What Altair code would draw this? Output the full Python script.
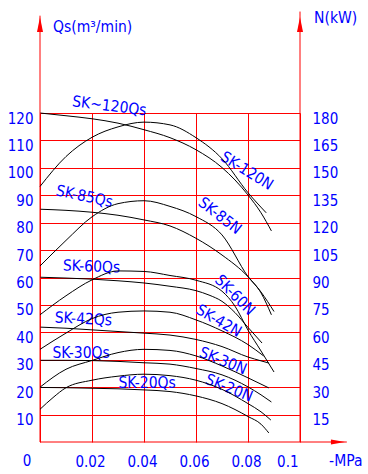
import altair as alt
import pandas as pd

# ---------------- data (x = vacuum, -MPa ; Qs = m3/min ; N = kW) ----------------
q120_x = [0, 0.01, 0.02, 0.03, 0.04, 0.05, 0.06, 0.07, 0.08, 0.085, 0.089]
q120_y = [120, 119, 117.9, 116.3, 113.9, 111, 106.6, 100.1, 90.1, 83.6, 77.0]
n120_x = [0, 0.01, 0.02, 0.03, 0.04, 0.05, 0.06, 0.07, 0.08, 0.087]
n120_y = [139.8, 156.2, 166.7, 172.4, 175.0, 173.5, 166.5, 155.0, 136.4, 125.4]

q85_x = [0, 0.01, 0.02, 0.03, 0.04, 0.05, 0.06, 0.07, 0.08, 0.085, 0.09]
q85_y = [84.9, 84.5, 83.8, 82.7, 81.0, 78.8, 74.3, 68.2, 60.3, 54.7, 47.6]
n85_x = [0, 0.01, 0.02, 0.03, 0.04, 0.05, 0.06, 0.07, 0.08, 0.085, 0.089]
n85_y = [96.3, 110.3, 123.2, 130.4, 132.0, 128.9, 123.3, 113.3, 90.5, 81.6, 69.6]

q60_x = [0, 0.01, 0.02, 0.03, 0.04, 0.05, 0.06, 0.065, 0.07, 0.075, 0.08, 0.0854]
q60_y = [60.1, 59.8, 59.4, 58.8, 58.0, 56.8, 55.2, 53.6, 51.3, 47.2, 41.8, 36.1]
n60_x = [0, 0.01, 0.02, 0.03, 0.04, 0.05, 0.06, 0.07, 0.075, 0.08, 0.085, 0.09]
n60_y = [69.6, 80.0, 88.7, 93.6, 93.3, 91.1, 88.5, 82.5, 74.3, 61.2, 49.8, 38.3]

q42_x = [0, 0.01, 0.02, 0.03, 0.04, 0.05, 0.06, 0.07, 0.08, 0.085, 0.088]
q42_y = [41.9, 41.5, 40.9, 40.3, 39.7, 39.0, 37.4, 34.8, 31.0, 29.6, 28.8]
n42_x = [0, 0.01, 0.02, 0.03, 0.04, 0.05, 0.06, 0.07, 0.08, 0.086]
n42_y = [50.7, 59.6, 67.5, 71.0, 71.7, 71.0, 66.8, 60.8, 53.3, 47.1]

q30_x = [0, 0.01, 0.02, 0.03, 0.04, 0.05, 0.06, 0.07, 0.08, 0.085, 0.089]
q30_y = [29.8, 29.8, 29.7, 29.4, 28.9, 28.4, 26.8, 24.5, 20.1, 17.2, 14.6]
n30_x = [0, 0.01, 0.02, 0.03, 0.04, 0.05, 0.06, 0.07, 0.08, 0.088]
n30_y = [30.0, 39.8, 44.6, 48.9, 50.7, 50.1, 47.1, 41.6, 35.1, 29.6]

q20_x = [0, 0.01, 0.02, 0.03, 0.04, 0.05, 0.06, 0.07, 0.08, 0.085, 0.088]
q20_y = [19.9, 19.8, 19.6, 19.4, 19.0, 18.4, 16.8, 14.0, 9.3, 6.5, 3.3]
n20_x = [0, 0.005, 0.01, 0.02, 0.03, 0.04, 0.05, 0.06, 0.07, 0.08, 0.085, 0.0888]
n20_y = [17.9, 24.3, 29.7, 33.8, 36.0, 37.1, 36.3, 33.8, 28.8, 21.0, 16.5, 12.0]

x_ticks = [0, 0.02, 0.04, 0.06, 0.08, 0.1]
y_left_ticks = [10, 20, 30, 40, 50, 60, 70, 80, 90, 100, 110, 120]
y_right_ticks = [15, 30, 45, 60, 75, 90, 105, 120, 135, 150, 165, 180]

lab_text = ["SK~120Qs", "SK-120N", "SK-85Qs", "SK-85N", "SK-60Qs", "SK-60N",
            "SK-42Qs", "SK-42N", "SK-30Qs", "SK-30N", "SK-20Qs", "SK-20N"]
lab_x = [0.0267, 0.0796, 0.0171, 0.0692, 0.0198, 0.0750, 0.0167, 0.0688, 0.0158, 0.0704, 0.0412, 0.0727]
lab_y = [122.6, 98.9, 89.6, 82.5, 64.0, 53.6, 44.9, 44.2, 32.3, 29.6, 21.4, 19.7]
lab_angle = [7, 32, 12, 38, 2, 45, 3, 30, 0, 22, 0, 22]

title_text = ["Qs(m³/min)", "N(kW)", "-MPa"]
title_x = [0.005, 0.1054, 0.1112]
title_y = [149.6, 152.9, -8.76]

# ---------------- tables ----------------
def long(curves, col):
    rows = []
    for name, xs_, ys_ in curves:
        for a, b in zip(xs_, ys_):
            rows.append({"curve": name, "p": a, col: b})
    return pd.DataFrame(rows)

qs_df = long([("120", q120_x, q120_y), ("85", q85_x, q85_y), ("60", q60_x, q60_y),
              ("42", q42_x, q42_y), ("30", q30_x, q30_y), ("20", q20_x, q20_y)], "Qs")
n_df = long([("120", n120_x, n120_y), ("85", n85_x, n85_y), ("60", n60_x, n60_y),
             ("42", n42_x, n42_y), ("30", n30_x, n30_y), ("20", n20_x, n20_y)], "N")
lab_df = pd.DataFrame({"t": lab_text, "p": lab_x, "Qs": lab_y, "a": lab_angle})
title_df = pd.DataFrame({"t": title_text, "p": title_x, "Qs": title_y})
origin_df = pd.DataFrame({"t": ["0"], "p": [-0.005], "Qs": [-8.76]})
axis_df = pd.DataFrame({"p": [0, 0.1, 0], "p2": [0, 0.1, 0.118],
                        "Qs": [0, 0, 0], "Qs2": [155.5, 157.0, 0]})
up_df = pd.DataFrame({"p": [0, 0.1], "Qs": [152.3, 152.3]})
right_df = pd.DataFrame({"p": [0.1146], "Qs": [0]})

RED = "#ff0000"
BLUE = "#0000ff"
FONT = "DejaVu Sans Condensed, Liberation Sans, sans-serif"

xs = alt.Scale(domain=[0, 0.1], nice=False, zero=False)
qs = alt.Scale(domain=[0, 120], nice=False, zero=False)
ns = alt.Scale(domain=[0, 180], nice=False, zero=False)

AX_X = alt.Axis(
    values=x_ticks, grid=True, gridColor=RED, gridWidth=1, gridOpacity=1,
    domain=False, ticks=False, tickSize=0, labelColor=BLUE, labelFont=FONT,
    labelFontSize=15, labelPadding=24, labelBaseline="alphabetic", labelOffset=-2,
    format="~g", labelExpr="datum.value == 0 ? '' : datum.label", title=None)
AX_Y = alt.Axis(
    values=y_left_ticks, grid=True, gridColor=RED, gridWidth=1, gridOpacity=1,
    domain=False, ticks=False, tickSize=0, labelColor=BLUE, labelFont=FONT,
    labelFontSize=15, labelPadding=7, labelBaseline="alphabetic", labelOffset=10,
    title=None)
AX_N = alt.Axis(
    orient="right", values=y_right_ticks, grid=False, domain=False, ticks=False,
    tickSize=0, labelColor=BLUE, labelFont=FONT, labelFontSize=15, labelPadding=12,
    labelBaseline="alphabetic", labelOffset=10, labelAlign="left", title=None)

X = alt.X("p:Q", scale=xs, axis=AX_X)
Y = alt.Y("Qs:Q", scale=qs, axis=AX_Y)

q_lines = alt.Chart(qs_df).mark_line(color="black", strokeWidth=1, interpolate="monotone").encode(
    x=X, y=Y, detail="curve:N")

axes_rules = alt.Chart(axis_df).mark_rule(color=RED, strokeWidth=1).encode(
    x=X, x2="p2:Q", y=Y, y2="Qs2:Q")

up_arrows = alt.Chart(up_df).mark_point(
    shape="M0,-1L0.4,1L-0.4,1Z", size=225, filled=True, color=RED, opacity=1, strokeWidth=0
).encode(x=X, y=Y)

right_arrow = alt.Chart(right_df).mark_point(
    shape="M-1,-0.35L1,0L-1,0.35Z", size=196, filled=True, color=RED, opacity=1, strokeWidth=0
).encode(x=X, y=Y)

labels = alt.Chart(lab_df).mark_text(
    color=BLUE, font=FONT, fontSize=15.5, align="center", baseline="middle"
).encode(x=X, y=Y, text="t:N", angle=alt.Angle("a:Q", scale=None))

titles = alt.Chart(title_df).mark_text(
    color=BLUE, font=FONT, fontSize=15.5, align="left", baseline="alphabetic"
).encode(x=X, y=Y, text="t:N")

origin = alt.Chart(origin_df).mark_text(
    color=BLUE, font=FONT, fontSize=15, align="center", baseline="alphabetic"
).encode(x=X, y=Y, text="t:N")

left_group = alt.layer(q_lines, axes_rules, up_arrows, right_arrow, labels, titles, origin)

n_lines = alt.Chart(n_df).mark_line(color="black", strokeWidth=1, interpolate="monotone").encode(
    x=X,
    y=alt.Y("N:Q", scale=ns, axis=AX_N),
    detail="curve:N",
)

chart = alt.layer(left_group, n_lines).resolve_scale(y="independent").properties(
    width=260, height=329,
    autosize=alt.AutoSizeParams(type="none"),
    padding={"left": 40, "top": 113, "right": 68, "bottom": 32},
    background="white",
).configure_view(stroke=None)

chart.save("out.html", embed_options={"renderer": "svg", "actions": False})
